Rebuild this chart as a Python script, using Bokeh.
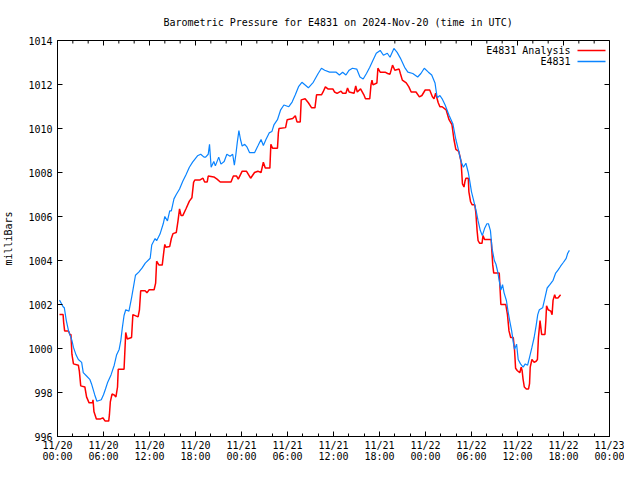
import math
from bokeh.plotting import figure
from bokeh.models import Range1d, FixedTicker, LinearAxis, Label, Arrow
from bokeh.embed import file_html
from bokeh.resources import INLINE

# hours since 2024-11-20 00:00 UTC, pressure in millibars
obs = [(0.26,1002.2),(0.47,1002.07),(0.73,1001.9),(0.89,1001.85),(1.15,1001.27),(1.44,1000.8),(1.88,1000.37),(2.08,1000.05),(2.43,999.7),(2.72,999.5),(3.15,999.37),(3.36,998.9),(3.79,998.75),(4.21,998.6),(4.43,998.4),(4.85,997.9),(5.14,997.6),(5.71,997.67),(6.0,997.9),(6.26,998.16),(6.55,998.47),(6.98,998.8),(7.40,999.24),(7.70,999.7),(8.04,999.96),(8.26,1000.37),(8.46,1000.95),(8.68,1001.5),(8.90,1001.76),(9.32,1001.7),(9.66,1002.3),(9.96,1002.9),(10.17,1003.33),(10.60,1003.47),(11.02,1003.65),(11.45,1003.88),(12.09,1004.1),(12.29,1004.7),(12.73,1005.0),(12.93,1004.9),(13.37,1005.2),(13.79,1005.67),(14.0,1006.0),(14.34,1005.8),(14.64,1006.26),(14.85,1006.26),(15.19,1006.8),(15.49,1007.0),(15.92,1007.25),(16.34,1007.6),(16.76,1007.9),(17.20,1008.24),(17.62,1008.47),(18.26,1008.76),(18.68,1008.83),(19.11,1008.7),(19.32,1008.7),(19.66,1008.83),(19.83,1009.28),(20.04,1008.24),(20.39,1008.5),(20.59,1008.3),(21.03,1008.7),(21.32,1008.38),(21.74,1008.5),(22.09,1008.83),(22.51,1008.74),(22.85,1008.83),(23.07,1008.33),(23.27,1008.83),(23.45,1009.37),(23.66,1009.9),(23.87,1009.5),(24.09,1009.2),(24.42,1009.28),(24.73,1009.15),(25.06,1008.9),(25.70,1008.9),(26.13,1009.2),(26.55,1009.5),(26.85,1009.23),(27.19,1009.5),(27.61,1009.8),(27.96,1009.86),(28.25,1010.18),(28.69,1010.4),(29.11,1010.85),(29.53,1011.07),(30.17,1010.99),(30.60,1011.2),(31.02,1011.53),(31.44,1011.9),(31.88,1012.1),(32.72,1011.85),(33.36,1012.1),(34.0,1012.5),(34.43,1012.74),(34.85,1012.65),(35.49,1012.56),(36.35,1012.56),(36.77,1012.43),(37.19,1012.56),(37.62,1012.43),(38.04,1012.65),(38.47,1012.74),(39.03,1012.7),(39.45,1012.34),(39.87,1012.25),(40.30,1012.5),(40.73,1012.78),(41.15,1013.1),(41.58,1013.42),(42.09,1013.55),(42.51,1013.33),(43.02,1013.42),(43.37,1013.24),(43.88,1013.64),(44.30,1013.46),(44.72,1013.2),(45.28,1012.78),(45.70,1012.56),(46.34,1012.5),(46.98,1012.34),(47.40,1012.5),(47.84,1012.74),(48.38,1012.56),(48.81,1012.43),(49.24,1012.07),(49.41,1011.66),(49.53,1011.4),(49.88,1011.5),(50.17,1011.35),(50.56,1011.07),(51.07,1010.6),(51.58,1010.2),(51.96,1009.5),(52.34,1008.96),(52.64,1008.5),(52.94,1008.24),(53.27,1008.42),(53.58,1008.0),(53.79,1007.57),(54.0,1007.12),(54.30,1006.7),(54.64,1006.2),(54.86,1005.8),(55.15,1005.36),(55.41,1005.13),(55.70,1005.45),(56.01,1005.67),(56.21,1005.67),(56.47,1005.36),(56.68,1004.55),(56.98,1004.0),(57.19,1003.83),(57.41,1003.5),(57.62,1003.07),(57.83,1002.66),(58.05,1002.9),(58.25,1002.53),(58.56,1002.17),(58.76,1001.7),(58.98,1001.27),(59.24,1000.8),(59.45,1000.28),(59.62,999.96),(59.88,1000.2),(60.09,999.5),(60.39,999.3),(60.73,999.15),(61.02,999.3),(61.32,999.24),(61.57,999.6),(61.88,1000.05),(62.17,1000.5),(62.43,1001.04),(62.64,1001.54),(62.85,1001.76),(63.28,1001.85),(63.58,1002.3),(63.87,1002.75),(64.22,1002.9),(64.64,1003.1),(64.98,1003.43),(65.28,1003.56),(65.62,1003.74),(66.00,1003.92),(66.35,1004.1),(66.55,1004.33),(66.77,1004.46)]

ana = [(0.26,1001.54),(0.73,1001.54),(0.80,1001.2),(0.93,1000.8),(1.44,1000.8),(1.66,1000.6),(1.75,1000.65),(1.88,999.74),(2.08,999.3),(2.72,999.24),(2.85,998.97),(3.03,998.3),(3.57,998.25),(3.79,997.8),(4.12,997.53),(4.56,997.53),(4.63,997.67),(4.76,997.12),(5.07,996.8),(5.62,996.8),(5.91,996.85),(6.22,996.7),(6.68,996.7),(6.77,996.98),(6.89,997.57),(7.11,997.93),(7.40,997.89),(7.62,997.8),(7.83,998.25),(7.92,999.06),(8.68,999.06),(8.90,1000.73),(9.10,1000.43),(9.66,1000.5),(9.83,1001.54),(10.51,1001.44),(10.69,1001.76),(10.85,1002.62),(11.45,1002.62),(11.66,1002.53),(11.96,1002.67),(12.60,1002.67),(12.80,1002.97),(12.93,1003.97),(13.24,1003.79),(13.66,1003.79),(13.92,1004.55),(14.0,1004.73),(14.13,1004.6),(14.64,1004.64),(14.85,1005.0),(15.06,1005.22),(15.49,1005.27),(15.70,1005.76),(15.92,1006.35),(16.12,1006.04),(16.34,1006.04),(16.76,1006.35),(17.20,1006.7),(17.53,1006.85),(17.75,1007.55),(17.91,1007.66),(18.60,1007.66),(18.98,1007.74),(19.19,1007.57),(19.53,1007.57),(19.66,1007.84),(20.39,1007.8),(20.81,1007.7),(21.23,1007.57),(22.63,1007.57),(22.94,1007.84),(23.36,1007.84),(23.58,1007.7),(24.09,1008.06),(24.64,1008.06),(25.19,1007.74),(25.70,1008.0),(26.13,1008.06),(26.55,1008.0),(26.85,1008.47),(27.10,1008.2),(27.70,1008.2),(27.83,1009.28),(28.05,1009.1),(28.69,1009.1),(28.81,1009.8),(28.89,1010.0),(29.75,1010.04),(29.96,1010.4),(30.68,1010.45),(31.02,1010.58),(31.24,1010.3),(31.66,1010.3),(31.79,1011.3),(32.30,1011.35),(32.72,1011.17),(33.15,1010.94),(33.58,1010.94),(33.79,1011.53),(34.43,1011.53),(34.64,1011.66),(34.94,1011.89),(35.27,1011.8),(35.91,1011.8),(36.13,1011.66),(36.47,1011.6),(36.98,1011.7),(37.19,1011.6),(37.62,1011.6),(37.83,1011.84),(38.04,1011.66),(38.68,1011.6),(38.90,1011.93),(39.10,1011.66),(39.53,1011.8),(39.96,1011.53),(40.17,1011.35),(40.73,1011.35),(40.89,1011.98),(41.02,1012.2),(41.15,1011.98),(41.66,1012.07),(41.79,1012.74),(42.09,1012.56),(42.73,1012.56),(43.06,1012.5),(43.37,1012.47),(43.70,1012.88),(44.0,1012.65),(44.56,1012.7),(44.72,1012.5),(44.98,1012.2),(45.49,1012.07),(45.83,1011.89),(46.13,1011.66),(46.76,1011.66),(47.20,1011.44),(47.53,1011.5),(47.96,1011.75),(48.55,1011.75),(48.90,1011.44),(49.11,1011.35),(49.32,1011.6),(49.66,1011.17),(49.88,1010.99),(50.17,1010.99),(50.69,1010.85),(51.07,1010.4),(51.45,1010.18),(51.71,1009.5),(51.96,1009.05),(52.34,1008.96),(52.64,1008.5),(52.82,1007.48),(53.02,1007.34),(53.15,1007.6),(53.27,1007.74),(53.58,1007.74),(53.66,1007.12),(53.88,1006.67),(54.09,1006.53),(54.43,1006.53),(54.56,1006.2),(54.73,1005.36),(54.86,1004.9),(55.07,1004.78),(55.37,1004.78),(55.50,1005.13),(55.70,1004.96),(56.56,1004.96),(56.77,1003.8),(56.90,1003.43),(57.62,1003.43),(57.83,1002.0),(58.47,1002.0),(58.69,1001.54),(58.89,1000.8),(59.11,1000.5),(59.45,1000.5),(59.62,999.9),(59.75,999.1),(59.96,999.0),(60.30,998.9),(60.48,999.15),(60.60,999.0),(60.73,998.6),(60.89,998.25),(61.15,998.16),(61.44,998.16),(61.57,998.4),(61.66,999.15),(61.88,999.5),(62.17,999.37),(62.43,999.42),(62.60,999.5),(62.73,1000.5),(62.94,1001.27),(63.15,1000.64),(63.58,1000.64),(63.70,1001.27),(63.79,1001.94),(64.0,1001.76),(64.34,1001.7),(64.51,1001.54),(64.64,1002.2),(64.85,1002.44),(64.98,1002.3),(65.28,1002.3),(65.62,1002.44)]

x_ticks = [0, 6, 12, 18, 24, 30, 36, 42, 48, 54, 60, 66, 72]
x_minor = list(range(0, 73, 2))
x_labels = ["11/20\n00:00", "11/20\n06:00", "11/20\n12:00", "11/20\n18:00",
            "11/21\n00:00", "11/21\n06:00", "11/21\n12:00", "11/21\n18:00",
            "11/22\n00:00", "11/22\n06:00", "11/22\n12:00", "11/22\n18:00",
            "11/23\n00:00"]
y_ticks = [996, 998, 1000, 1002, 1004, 1006, 1008, 1010, 1012, 1014]

FONT = "DejaVu Sans Mono"
RED = "#ff0000"
BLUE = "#0a84ff"

p = figure(width=624, height=464, output_backend="svg", toolbar_location=None,
           x_range=Range1d(x_ticks[0], x_ticks[-1]), y_range=Range1d(y_ticks[0], y_ticks[-1]),
           min_border_left=57, min_border_right=15, min_border_top=40, min_border_bottom=26,
           x_axis_location=None, y_axis_location=None)
p.title.text = "Barometric Pressure for E4831 on 2024-Nov-20 (time in UTC)"
p.title.align = "left"
p.title.offset = 106
p.title.text_font = FONT
p.title.text_font_size = "10px"
p.title.text_font_style = "normal"
p.title.text_color = "black"
p.title.standoff = 26
p.xgrid.visible = False
p.ygrid.visible = False
p.outline_line_color = "black"
p.outline_line_alpha = 1.0
p.background_fill_color = "white"
p.border_fill_color = "white"

def style(ax, minor=True):
    ax.axis_line_color = "black"
    ax.major_tick_in = 5
    ax.major_tick_out = 0
    ax.major_tick_line_color = "black"
    if minor:
        ax.minor_tick_in = 3
        ax.minor_tick_out = 0
        ax.minor_tick_line_color = "black"
    else:
        ax.minor_tick_line_color = None
    ax.major_label_text_font = FONT
    ax.major_label_text_font_size = "10px"
    ax.major_label_text_color = "black"

bottom = LinearAxis(ticker=FixedTicker(ticks=x_ticks, minor_ticks=x_minor))
style(bottom)
bottom.major_label_overrides = {t: l for t, l in zip(x_ticks, x_labels)}
bottom.major_label_standoff = 3
bottom.major_label_text_line_height = 1.0
p.add_layout(bottom, "below")

left = LinearAxis(ticker=FixedTicker(ticks=y_ticks, minor_ticks=[]), axis_label="milliBars")
style(left, minor=False)
left.major_label_overrides = {t: str(t) for t in y_ticks}
left.major_label_standoff = 5
left.axis_label_text_font = FONT
left.axis_label_text_font_size = "10px"
left.axis_label_text_font_style = "normal"
left.axis_label_text_color = "black"
left.axis_label_standoff = 11
p.add_layout(left, "left")

# mirrored inward ticks on the top and right borders (half of each dash is clipped by the frame)
minor_only = [t for t in x_minor if t not in x_ticks]
p.scatter(x_ticks, [y_ticks[-1]] * len(x_ticks), marker="dash", size=10, angle=math.pi / 2,
          line_color="black", line_width=1)
p.scatter(minor_only, [y_ticks[-1]] * len(minor_only), marker="dash", size=6, angle=math.pi / 2,
          line_color="black", line_width=1)
p.scatter([x_ticks[-1]] * len(y_ticks), y_ticks, marker="dash", size=10,
          line_color="black", line_width=1)

p.line([t for t, v in ana], [v for t, v in ana], line_color=RED, line_width=1.5)
p.line([t for t, v in obs], [v for t, v in obs], line_color=BLUE, line_width=1.2)

# gnuplot-style key: label then sample line (screen units are relative to the frame)
for i, (name, col) in enumerate([("E4831 Analysis", RED), ("E4831", BLUE)]):
    yy = 386 - 11 * i
    p.add_layout(Label(x=513, y=yy, x_units="screen", y_units="screen", text=name,
                       text_align="right", text_baseline="middle", text_color="black",
                       text_font=FONT, text_font_size="10px"))
    p.add_layout(Arrow(end=None, x_start=520, y_start=yy, x_end=548, y_end=yy,
                       start_units="screen", end_units="screen",
                       line_color=col, line_width=1.5))

open("out.html", "w").write(file_html(p, INLINE))
